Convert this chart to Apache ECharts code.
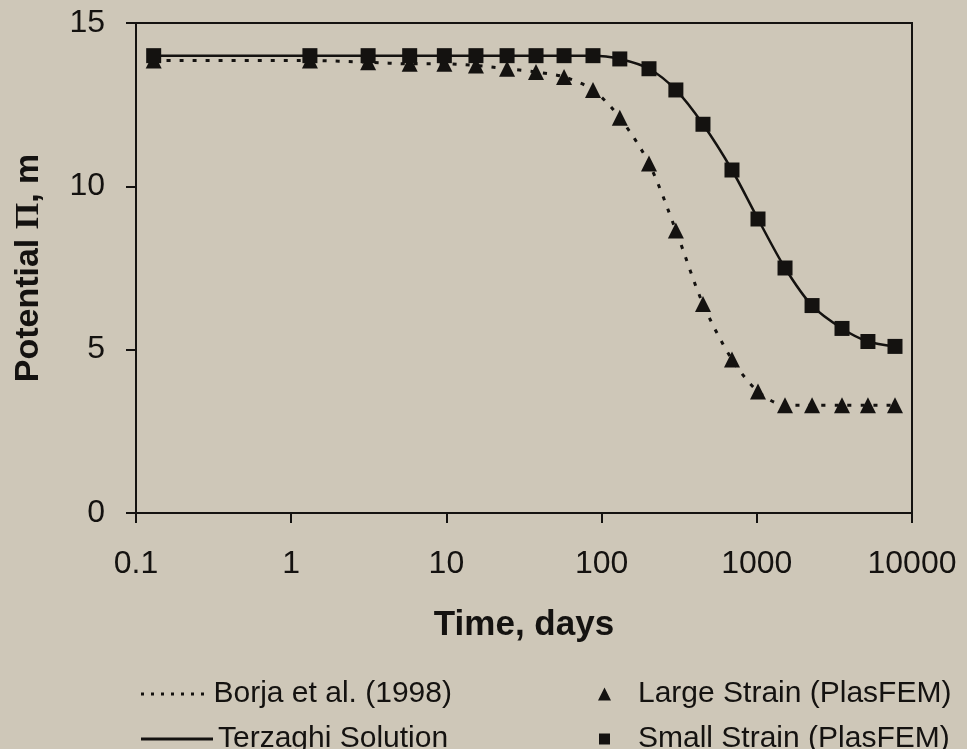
<!DOCTYPE html>
<html>
<head>
<meta charset="utf-8">
<script src="https://cdn.jsdelivr.net/npm/echarts@6/dist/echarts.min.js"></script>
<style>
  html, body { margin: 0; padding: 0; background: #cec7b8; }
  #main { width: 967px; height: 749px; }
</style>
</head>
<body>
<div id="main"></div>
<script>
// time (days) of each computed point
var times = [0.13, 1.32, 3.13, 5.8, 9.7, 15.5, 24.6, 37.8, 57.3, 88, 131, 202, 301, 450, 692, 1018, 1520, 2270, 3540, 5200, 7770];
// potential, m
var smallStrain = [14.0, 14.0, 14.0, 14.0, 14.0, 14.0, 14.0, 14.0, 14.0, 14.0, 13.9, 13.6, 12.95, 11.9, 10.5, 9.0, 7.5, 6.35, 5.65, 5.25, 5.1];
var largeStrain = [13.85, 13.85, 13.8, 13.75, 13.75, 13.7, 13.6, 13.5, 13.35, 12.95, 12.1, 10.7, 8.65, 6.4, 4.7, 3.72, 3.3, 3.3, 3.3, 3.3, 3.3];
var terzaghi = [14.0, 14.0, 14.0, 14.0, 14.0, 14.0, 14.0, 14.0, 14.0, 14.0, 13.9, 13.6, 12.95, 11.9, 10.5, 9.0, 7.5, 6.35, 5.65, 5.25, 5.1];
var borja = [13.85, 13.85, 13.8, 13.75, 13.75, 13.7, 13.6, 13.5, 13.35, 12.95, 12.1, 10.7, 8.65, 6.4, 4.7, 3.72, 3.3, 3.3, 3.3, 3.3, 3.3];

function pairs(xs, ys) {
  return xs.map(function (x, i) { return [x, ys[i]]; });
}

var font = 'Liberation Sans, Arial, sans-serif';
var ink = '#141210';

// legend icons: a row of dots and a plain stroke
var dotIcon = 'path://';
for (var k = 0; k < 7; k++) dotIcon += 'M' + (k * 10) + ',0h3v3h-3z';
var lineIcon = 'path://M0,0h72v3h-72z';

var legendText = { fontSize: 30, color: ink, lineHeight: 30, fontFamily: font };

function oneLegend(name, left, top, icon, w, h, pad) {
  return {
    left: left,
    top: top,
    icon: icon,
    itemWidth: w,
    itemHeight: h,
    textStyle: Object.assign({ padding: [0, 0, 0, pad] }, legendText),
    data: [name]
  };
}

var myChart = echarts.init(document.getElementById('main'));
var option = {
  backgroundColor: '#cec7b8',
  animation: false,
  textStyle: { fontFamily: font, color: ink },
  grid: {
    left: 136,
    right: 55,
    top: 23,
    bottom: 236,
    show: true,
    borderColor: ink,
    borderWidth: 2
  },
  legend: [
    oneLegend('Borja et al. (1998)', 136, 674, dotIcon, 72, 3, 0),
    oneLegend('Terzaghi Solution', 136, 719, lineIcon, 72, 3, 0),
    oneLegend('Large Strain (PlasFEM)', 593, 674, 'triangle', 13, 13, 22),
    oneLegend('Small Strain (PlasFEM)', 594, 719, 'rect', 11, 11, 23)
  ],
  xAxis: {
    type: 'log',
    logBase: 10,
    min: 0.1,
    max: 10000,
    name: 'Time, days',
    nameLocation: 'middle',
    nameGap: 95,
    nameTextStyle: { fontSize: 35, fontWeight: 'bold', color: ink, fontFamily: font },
    axisLine: { lineStyle: { color: ink, width: 2 } },
    axisTick: { show: true, length: 10, lineStyle: { color: ink, width: 2 } },
    minorTick: { show: false },
    splitLine: { show: false },
    axisLabel: {
      fontSize: 32,
      color: ink,
      margin: 35,
      formatter: function (v) { return v < 1 ? '0.1' : String(Math.round(v)); }
    }
  },
  yAxis: {
    type: 'value',
    min: 0,
    max: 15,
    interval: 5,
    name: 'Potential {pi|Π}, m',
    nameLocation: 'middle',
    nameGap: 90,
    nameTextStyle: {
      fontSize: 34,
      fontWeight: 'bold',
      color: ink,
      fontFamily: font,
      rich: { pi: { fontSize: 34, fontFamily: 'Liberation Serif, serif', color: ink } }
    },
    axisLine: { show: true, lineStyle: { color: ink, width: 2 } },
    axisTick: { show: true, length: 10, lineStyle: { color: ink, width: 2 } },
    splitLine: { show: false },
    axisLabel: { fontSize: 32, color: ink, margin: 31 }
  },
  series: [
    {
      name: 'Borja et al. (1998)',
      type: 'line',
      smooth: 0.3,
      symbol: 'none',
      data: pairs(times, borja),
      lineStyle: { color: ink, width: 3, type: [4, 9] },
      itemStyle: { color: ink },
      z: 2
    },
    {
      name: 'Terzaghi Solution',
      type: 'line',
      smooth: 0.3,
      symbol: 'none',
      data: pairs(times, terzaghi),
      lineStyle: { color: ink, width: 2.5 },
      itemStyle: { color: ink },
      z: 2
    },
    {
      name: 'Large Strain (PlasFEM)',
      type: 'scatter',
      symbol: 'triangle',
      symbolSize: 16,
      data: pairs(times, largeStrain),
      itemStyle: { color: ink, opacity: 1 },
      z: 3
    },
    {
      name: 'Small Strain (PlasFEM)',
      type: 'scatter',
      symbol: 'rect',
      symbolSize: 15,
      data: pairs(times, smallStrain),
      itemStyle: { color: ink, opacity: 1 },
      z: 4
    }
  ]
};
myChart.setOption(option);
</script>
</body>
</html>
